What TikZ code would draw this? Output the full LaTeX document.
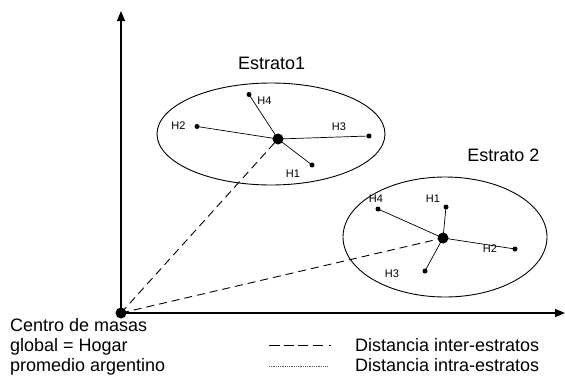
\documentclass[tikz,border=0pt]{standalone}
\usepackage{fontspec}
\setmainfont{Liberation Sans}
\usetikzlibrary{arrows.meta}
\begin{document}
\begin{tikzpicture}[x=1pt,y=-1pt,
  axis/.style={line width=1.4pt,-{Triangle[length=10pt,width=8pt]}},
  inter/.style={line width=0.9pt,dash pattern=on 8pt off 5pt},
  intra/.style={line width=0.7pt},
  bigdot/.style={circle,fill=black,inner sep=0pt,minimum size=11pt},
  smalldot/.style={circle,fill=black,inner sep=0pt,minimum size=5pt},
  hlab/.style={font=\fontsize{11}{13}\selectfont,inner sep=0pt,anchor=base},
  bigtxt/.style={font=\fontsize{18}{21}\selectfont,inner sep=0pt},
  stratum/.style={line width=0.9pt}]
\useasboundingbox (0,0) rectangle (565,375);
% axes
\coordinate (yend) at (121,11);
\coordinate (xend) at (565,313);
\node[bigdot] (O) at (121,313) {};
\draw[axis] (O.center) -- (yend);
\draw[axis] (O.center) -- (xend);
% stratum 1
\draw[stratum] (271,134) ellipse [x radius=114, y radius=51];
\node[bigtxt,anchor=base] (e1) at (271.7,69) {Estrato1};
\node[bigdot] (c1) at (278,139) {};
\node[smalldot] (a1) at (312,165) {};
\node[smalldot] (a2) at (197,126.5) {};
\node[smalldot] (a3) at (369,136) {};
\node[smalldot] (a4) at (249,94.5) {};
\node[hlab] at (293,177) {H1};
\node[hlab] at (178.5,129.3) {H2};
\node[hlab] at (339,130) {H3};
\node[hlab] at (264.5,104.3) {H4};
\foreach \n in {a1,a2,a3,a4} \draw[intra] (c1.center) -- (\n.center);
% stratum 2
\draw[stratum] (445,237) ellipse [x radius=102, y radius=60];
\node[bigtxt,anchor=base] (e2) at (503.3,161.7) {Estrato 2};
\node[bigdot] (c2) at (443,238) {};
\node[smalldot] (b1) at (446,207) {};
\node[smalldot] (b2) at (515,249) {};
\node[smalldot] (b3) at (425,271) {};
\node[smalldot] (b4) at (378,209) {};
\node[hlab] at (433,202) {H1};
\node[hlab] at (490,252) {H2};
\node[hlab] at (392,277) {H3};
\node[hlab] at (376,202) {H4};
\foreach \n in {b1,b2,b3,b4} \draw[intra] (c2.center) -- (\n.center);
% inter-strata distances
\draw[inter] (O.center) -- (c1.center);
\draw[inter] (O.center) -- (c2.center);
% caption
\node[bigtxt,anchor=base west] (cm1) at (10,331.5) {Centro de masas};
\node[bigtxt,anchor=base west] (cm2) at (10,351.5) {global = Hogar};
\node[bigtxt,anchor=base west] (cm3) at (10,371) {promedio argentino};
% legend
\coordinate (l1a) at (269,345);
\coordinate (l1b) at (331,345);
\coordinate (l2a) at (269,366);
\coordinate (l2b) at (327,366);
\draw[line width=1pt,dash pattern=on 11pt off 3.5pt on 10pt off 4.5pt on 10pt off 5pt on 10pt off 6pt on 2pt off 20pt] (l1a) -- (l1b);
\draw[line width=0.8pt,densely dotted,gray!70!black] (l2a) -- (l2b);
\node[bigtxt,anchor=base west] (t1) at (355,351.7) {Distancia inter-estratos};
\node[bigtxt,anchor=base west] (t2) at (355,371) {Distancia intra-estratos};
\end{tikzpicture}
\end{document}
